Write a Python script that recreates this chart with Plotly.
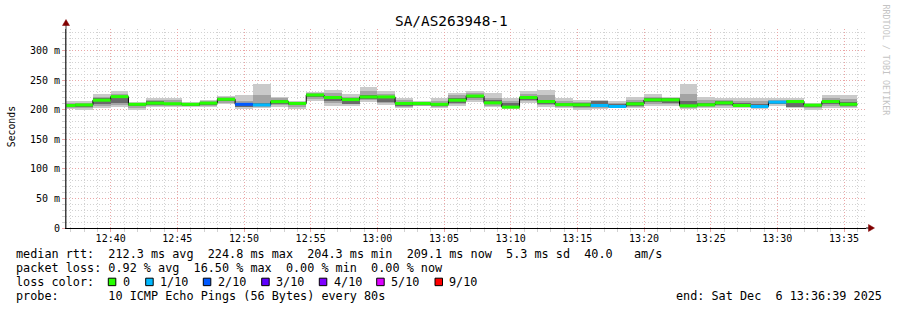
import plotly.graph_objects as go
import pandas as pd

# ---------------- data ----------------
step_start = "2025-12-06 12:36:00"
step_seconds = 80
view_start = "2025-12-06 12:36:39"
view_end = "2025-12-06 13:36:39"

median = [207, 208, 216, 222, 209, 211, 210, 209, 211, 217.5,
          209, 208, 213.5, 210.5, 224.8, 220.5, 217, 221.5, 221.5, 210.5,
          210.5, 209, 216, 223, 211.5, 204.3, 220.5, 213.7, 208.5, 208.2,
          207, 205.3, 209.8, 216.6, 216.6, 206.5, 208.2, 211.5, 207, 205.3,
          212.7, 213.7, 207.6, 213.7, 209.1]
smoke_min = [201, 200, 203, 205, 200, 204, 204, 205, 204, 210,
             201, 202, 205, 201, 215, 206, 206, 213, 208, 203,
             206, 203, 206, 213, 205, 201, 211, 205, 203, 200,
             201, 202, 202, 207, 207, 201, 202, 203, 202, 201,
             207, 203, 200, 203, 202]
smoke_max = [214, 215, 226, 231, 213, 219, 219, 213, 217, 223,
             225, 244, 222, 215, 230, 234, 227, 239, 231, 219,
             214, 220, 228, 231, 228, 219, 231, 233, 220, 216,
             216, 214, 222, 226, 222, 243, 222, 219, 220, 219,
             219, 219, 211, 224, 225]
mid_lo = [203, 203, 207, 208, 203, 206, 206, 206, 206, 212,
          204, 204, 208, 205, 218, 212, 209, 216, 211, 205,
          207, 205, 209, 216, 207, 203, 214, 208, 205, 203,
          203, 203, 205, 210, 210, 203, 204, 206, 204, 203,
          209, 206, 203, 206, 205]
mid_hi = [211, 212, 222, 227, 211, 217, 216, 211, 214, 221,
          215, 225, 219, 213, 228, 228, 222, 232, 226, 216,
          213, 215, 224, 228, 220, 214, 226, 225, 215, 213,
          214, 211, 217, 222, 220, 227, 217, 216, 215, 215,
          217, 216, 210, 219, 218]
dark_lo = [205, 205, 210, 211, 206, 208, 208, 207, 208, 214,
           205, 206, 210, 208, 221, 215, 210, 218, 213, 207,
           208, 207, 212, 219, 209, 204, 217, 210, 206, 205,
           205, 204, 207, 213, 212, 205, 206, 208, 205, 204,
           210, 205, 205, 209, 207]
dark_hi = [209, 209, 219, 222, 210, 215, 212, 210, 213, 219,
           211, 212, 216, 212, 226, 223, 219, 225, 222, 213,
           212, 212, 219, 225, 217, 211, 223, 217, 212, 211,
           214, 209, 213, 219, 219, 214, 212, 214, 211, 210,
           215, 214, 209, 216, 213]
loss_pct = [0, 0, 0, 0, 0, 0, 0, 0, 0, 0,
            16.5, 5, 0, 0, 0, 0, 0, 0, 0, 0,
            0, 0, 0, 0, 0, 0, 0, 0, 0, 0,
            5, 5, 0, 0, 0, 0, 0, 0, 0, 5,
            5, 0, 0, 0, 0]

y_tick_vals = [0, 50, 100, 150, 200, 250, 300]
y_tick_text = ["0", "50 m", "100 m", "150 m", "200 m", "250 m", "300 m"]

loss_labels = ["0", "1/10", "2/10", "3/10", "4/10", "5/10", "9/10"]
loss_colors = ["#26ff00", "#00b8ff", "#0059ff", "#5e00ff", "#7e00ff", "#dd00ff", "#ff0000"]

title_text = "SA/AS263948-1"
row_median = "median rtt:  212.3 ms avg  224.8 ms max  204.3 ms min  209.1 ms now  5.3 ms sd  40.0   am/s"
row_loss = "packet loss: 0.92 % avg  16.50 % max  0.00 % min  0.00 % now"
row_color = "loss color:"
row_probe = "probe:       10 ICMP Echo Pings (56 Bytes) every 80s"
end_text = "end: Sat Dec  6 13:36:39 2025"
watermark = "RRDTOOL / TOBI OETIKER"

# ---------------- geometry helpers ----------------
W, H = 897, 310
ML, MR, MT, MB = 66, 31, 29, 81.5
PW = W - ML - MR
PH = H - MT - MB


def px(xp):
    return (xp - ML) / PW


def py(yp):
    return (H - MB - yp) / PH


def nb(s):
    return s.replace(" ", "\u00a0")


FONT = "DejaVu Sans Mono"

t0 = pd.Timestamp(step_start)
n = len(median)
starts = [t0 + pd.Timedelta(seconds=step_seconds * i) for i in range(n)]
ends = [s + pd.Timedelta(seconds=step_seconds) for s in starts]
centers = [s + pd.Timedelta(seconds=step_seconds / 2) for s in starts]
width_ms = step_seconds * 1000

fig = go.Figure()

bands = [(smoke_min, smoke_max, "#cacaca"),
         (mid_lo, mid_hi, "#a4a4a4"),
         (dark_lo, dark_hi, "#6a6a6a")]
for lo, hi, col in bands:
    fig.add_trace(go.Bar(
        x=centers, base=lo, y=[h - l for l, h in zip(lo, hi)],
        width=[width_ms] * n, marker=dict(color=col, line=dict(width=0)),
        showlegend=False, hoverinfo="skip"))

# black median step line
fig.add_trace(go.Scatter(
    x=starts + [ends[-1]], y=median + [median[-1]], mode="lines",
    line=dict(color="#000000", width=1, shape="hv"),
    showlegend=False, hoverinfo="skip"))


def loss_color(l):
    if l <= 0:
        return loss_colors[0]
    if l <= 10:
        return loss_colors[1]
    if l <= 20:
        return loss_colors[2]
    if l <= 30:
        return loss_colors[3]
    if l <= 40:
        return loss_colors[4]
    if l <= 50:
        return loss_colors[5]
    return loss_colors[6]


groups = {}
for s, e, m, l in zip(starts, ends, median, loss_pct):
    c = loss_color(l)
    gx, gy = groups.setdefault(c, ([], []))
    gx += [s, e, None]
    gy += [m, m, None]
for c, (gx, gy) in groups.items():
    fig.add_trace(go.Scatter(x=gx, y=gy, mode="lines",
                             line=dict(color=c, width=3),
                             showlegend=False, hoverinfo="skip"))

MAJ = "#eaa6a6"
MIN = "#d2d2d2"

fig.update_layout(
    width=W, height=H, autosize=False,
    margin=dict(l=ML, r=MR, t=MT, b=MB, pad=0),
    paper_bgcolor="white", plot_bgcolor="white",
    barmode="overlay", bargap=0,
    showlegend=False,
    font=dict(family=FONT, size=10, color="#000000"),
    xaxis=dict(
        type="date", range=[view_start, view_end],
        tickmode="linear", tick0="2025-12-06 12:40:00", dtick=300000,
        tickformat="%H:%M", showgrid=True, gridcolor=MAJ, griddash="1px,2px",
        gridwidth=1, ticks="outside", ticklen=3, tickcolor=MAJ,
        ticklabelstandoff=-2,
        minor=dict(dtick=60000, tick0="2025-12-06 12:40:00", showgrid=True,
                   gridcolor=MIN, griddash="1px,2px", ticks="outside",
                   ticklen=3, tickcolor=MIN),
        showline=True, linecolor="#000000", linewidth=1,
        zeroline=False, tickfont=dict(family=FONT, size=10, color="#000000"),
        fixedrange=True),
    yaxis=dict(
        range=[0, 336.3], tickmode="array", tickvals=y_tick_vals,
        ticktext=y_tick_text, showgrid=True, gridcolor=MAJ,
        griddash="1px,2px", ticks="outside", ticklen=3, tickcolor=MAJ,
        minor=dict(tickmode="linear", tick0=0, dtick=10, showgrid=True,
                   gridcolor=MIN, griddash="1px,2px", ticks="outside",
                   ticklen=3, tickcolor=MIN),
        showline=True, linecolor="#404040", linewidth=1,
        zeroline=False, tickfont=dict(family=FONT, size=10, color="#000000"),
        fixedrange=True),
)

shapes = []
# axis extensions and arrows
shapes.append(dict(type="line", xref="paper", yref="paper",
                   x0=px(66), x1=px(66), y0=0, y1=py(25),
                   line=dict(color="#404040", width=1)))
shapes.append(dict(type="line", xref="paper", yref="paper",
                   x0=1, x1=px(869), y0=0, y1=0,
                   line=dict(color="#000000", width=1)))
shapes.append(dict(type="path", xref="paper", yref="paper",
                   path=f"M {px(62.5)} {py(25.5)} L {px(69.5)} {py(25.5)} L {px(66)} {py(19.5)} Z",
                   fillcolor="#800000", line=dict(color="#800000", width=0.5)))
shapes.append(dict(type="path", xref="paper", yref="paper",
                   path=f"M {px(868.5)} {py(225)} L {px(868.5)} {py(232)} L {px(874.5)} {py(228.5)} Z",
                   fillcolor="#800000", line=dict(color="#800000", width=0.5)))

annotations = []


def add_text(text, xp, yp, size=11.8, anchor="left", color="#000000", angle=0, family=FONT):
    annotations.append(dict(
        text=nb(text), x=px(xp), y=py(yp), xref="paper", yref="paper",
        xanchor=anchor, yanchor="middle", showarrow=False,
        font=dict(family=family, size=size, color=color),
        borderpad=0, borderwidth=0, textangle=angle))


add_text(title_text, 451.5, 20.5, size=14.4, anchor="center")
add_text("Seconds", 11.5, 127, size=9.8, anchor="center", angle=-90)
add_text(watermark, 886.5, 60, size=8.4, anchor="center", color="#c4c4c4", angle=90)
add_text(row_median, 16, 254.3)
add_text(row_loss, 16, 268.3)
add_text(row_color, 16, 282.7)
add_text(row_probe, 16, 296.7)
add_text(end_text, 676, 296.7)

sq_x = [108.3, 145.7, 203.3, 261.7, 319.3, 376.7, 435.0]
for sx, lab, col in zip(sq_x, loss_labels, loss_colors):
    shapes.append(dict(type="rect", xref="paper", yref="paper",
                       x0=px(sx), x1=px(sx + 7.5), y0=py(278.8), y1=py(286.3),
                       fillcolor=col, line=dict(color="#000000", width=1)))
    add_text(lab, sx + 14.4, 282.7)

fig.update_layout(shapes=shapes, annotations=annotations)

fig.write_html("out.html")
